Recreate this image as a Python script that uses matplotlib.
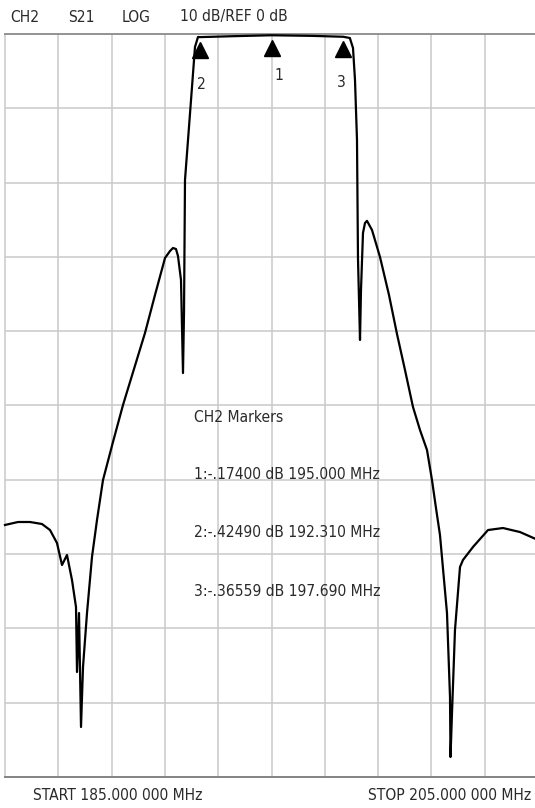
import matplotlib
matplotlib.use('Agg')
import matplotlib.pyplot as plt
from matplotlib import font_manager as fm
from matplotlib.transforms import offset_copy

# trace (MHz, dB)
freq = [185.000, 185.488, 185.938, 186.388, 186.689, 186.951, 187.139, 187.326,
        187.514, 187.664, 187.702, 187.777, 187.852, 187.927, 188.077, 188.264,
        188.452, 188.677, 189.052, 189.428, 189.840, 190.253, 190.628, 191.004,
        191.191, 191.304, 191.416, 191.491, 191.604, 191.679, 191.717, 191.754,
        191.867, 192.017, 192.129, 192.242, 192.310, 193.500, 195.000, 196.500,
        197.690, 197.940, 198.058, 198.133, 198.208, 198.245, 198.321, 198.358,
        198.433, 198.508, 198.583, 198.771, 199.071, 199.409, 199.709, 200.009,
        200.309, 200.572, 200.835, 201.022, 201.172, 201.322, 201.585, 201.698,
        201.717, 201.773, 201.885, 202.073, 202.185, 202.561, 203.124, 203.687,
        204.324, 205.000]
s21_db = [-66.08, -65.68, -65.68, -65.95, -66.76, -68.51, -71.47, -70.12,
          -73.49, -77.12, -85.87, -77.93, -93.27, -85.20, -77.93, -70.39,
          -65.41, -60.03, -54.91, -49.93, -45.09, -40.24, -35.13, -30.15,
          -29.21, -28.80, -28.94, -29.88, -33.11, -45.63, -37.55, -19.65,
          -14.27, -7.13, -1.75, -0.40, -0.42, -0.30, -0.17, -0.25,
          -0.37, -0.54, -1.88, -6.19, -14.27, -30.15, -41.18, -34.45,
          -26.78, -25.44, -25.15, -26.38, -30.01, -35.13, -40.38, -45.22,
          -50.20, -53.30, -55.99, -60.03, -63.80, -67.43, -77.93, -89.23,
          -97.31, -91.39, -80.21, -71.74, -70.79, -69.04, -66.76, -66.49,
          -67.03, -68.10]

marker_ids = ['1', '2', '3']
marker_freq = [195.000, 192.310, 197.690]
marker_db = [-0.17400, -0.42490, -0.36559]
marker_text = ['1:-.17400 dB 195.000 MHz',
               '2:-.42490 dB 192.310 MHz',
               '3:-.36559 dB 197.690 MHz']

header = ['CH2', 'S21', 'LOG', '10 dB/REF 0 dB']
start_mhz, stop_mhz = 185.0, 205.0
ref_db, db_per_div = 0, 10

# the screenshot uses a narrow sans; take the narrowest one we have
entries = fm.fontManager.ttflist
fam, stretch = ['Roboto', 'DejaVu Sans'], 'normal'
if any(f.name == 'Liberation Sans Narrow' for f in entries):
    fam = ['Liberation Sans Narrow', 'DejaVu Sans']
elif any(f.name == 'DejaVu Sans' and 'condensed' in str(f.stretch) for f in entries):
    fam, stretch = ['DejaVu Sans'], 'condensed'
txt = '#2a2a2a'

fig = plt.figure(figsize=(5.35, 8.08), dpi=100)

# size the font from the width of a marker line (~169 px), a bit larger
# since the original face is narrower than ours
probe = fig.text(0, 0, marker_text[0], fontsize=12, family=fam, stretch=stretch)
fig.canvas.draw()
fs = 1.1 * 12 * 169 / probe.get_window_extent().width
probe.remove()
tkw = dict(fontsize=fs, family=fam, stretch=stretch, color=txt)

# plot area runs a little past the right edge, like the screenshot
ax = fig.add_axes([5 / 535, 31 / 808, 533 / 535, 743 / 808])
ax.set_xlim(start_mhz, stop_mhz)
ax.set_ylim(ref_db - 10 * db_per_div, ref_db)

step = (stop_mhz - start_mhz) / 10
for i in range(1, 10):
    ax.axvline(start_mhz + i * step, color='#c9c9c9', lw=1.1, zorder=1)
    ax.axhline(ref_db - i * db_per_div, color='#c9c9c9', lw=1.1, zorder=1)
ax.set_xticks([])
ax.set_yticks([])
for side in ['left', 'right']:
    ax.spines[side].set_color('#c9c9c9')
    ax.spines[side].set_linewidth(1.1)
ax.spines['top'].set_color('#8a8a8a')
ax.spines['bottom'].set_color('#7a7a7a')
ax.spines['top'].set_linewidth(1.3)
ax.spines['bottom'].set_linewidth(1.3)

ax.plot(freq, s21_db, color='black', lw=1.6, zorder=3, clip_on=False)

# marker triangles just below the trace, with their numbers underneath
tri = offset_copy(ax.transData, fig=fig, y=-9, units='points')
ax.plot(marker_freq, marker_db, ls='none', marker='^', ms=11,
        color='black', transform=tri, zorder=4, clip_on=False)
label_off = {'1': (5, -29), '2': (1.5, -34), '3': (-1, -33)}
for mid, f, d in zip(marker_ids, marker_freq, marker_db):
    ax.annotate(mid, (f, d), xytext=label_off[mid], textcoords='offset points',
                ha='center', va='center', **tkw)

ax.text(0.3546, 0.4845, 'CH2 Markers', transform=ax.transAxes,
        va='center', ha='left', **tkw)
for i, s in enumerate(marker_text):
    ax.text(0.3546, 0.4065 - i * 0.0781, s, transform=ax.transAxes,
            va='center', ha='left', **tkw)

for x, s in zip([10, 68, 122, 180], header):
    fig.text(x / 535, 1 - 17 / 808, s, va='center', ha='left', **tkw)

fig.text(33 / 535, 1 - 795 / 808, 'START %.3f 000 MHz' % start_mhz,
         va='center', ha='left', **tkw)
fig.text(368 / 535, 1 - 795 / 808, 'STOP %.3f 000 MHz' % stop_mhz,
         va='center', ha='left', **tkw)

fig.savefig('out.png', dpi=100)
